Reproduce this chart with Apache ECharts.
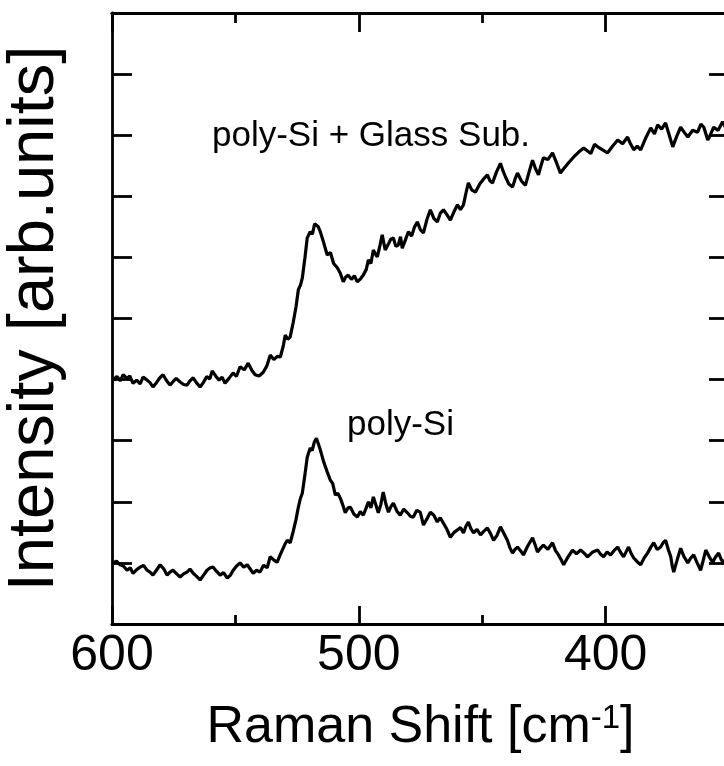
<!DOCTYPE html>
<html>
<head>
<meta charset="utf-8">
<script src="https://cdn.jsdelivr.net/npm/echarts@6/dist/echarts.min.js"></script>
<style>
html,body{margin:0;padding:0;background:#fff;}
#chart{width:724px;height:766px;}
</style>
</head>
<body>
<div id="chart"></div>
<script>
// ---- data ----
const xMajorTicks = [600, 500, 400];
const xMinorTicks = [550, 450, 350];
const xTitle = 'Raman Shift [cm';
const xTitleSup = '-1';
const yTitle = 'Intensity [arb.units]';
const labelGlass = 'poly-Si + Glass Sub.';
const labelPoly = 'poly-Si';

// poly-Si + Glass Sub. (upper trace)
const glassShift = [599.6,598.0,596.6,595.5,594.0,592.8,591.5,590.0,588.6,587.4,586.0,584.6,583.4,582.0,580.6,579.3,578.0,576.5,575.2,574.0,572.4,571.0,569.6,568.4,567.1,565.8,564.3,563.0,561.6,560.4,559.4,558.0,556.6,555.4,554.2,552.6,550.9,549.6,548.1,546.4,544.8,543.3,542.0,540.4,538.7,537.3,535.9,534.4,533.0,531.8,530.6,529.8,528.8,527.8,526.6,525.4,524.5,523.6,522.9,521.8,520.9,519.7,518.8,517.9,517.2,516.4,515.6,514.3,512.8,511.5,510.2,508.7,507.5,506.3,505.3,504.3,503.0,501.8,500.6,499.3,498.2,497.0,496.1,495.1,494.1,493.2,492.5,491.4,490.5,489.3,488.0,487.0,486.0,485.0,484.0,483.1,482.4,481.0,479.9,478.6,477.4,476.3,475.0,473.8,472.4,471.0,469.6,468.2,467.0,465.7,464.3,462.9,461.4,460.0,458.8,457.6,456.6,455.6,454.2,452.7,451.0,449.5,447.9,446.8,445.8,444.2,442.6,441.6,440.6,439.2,437.7,436.7,435.7,434.1,432.5,431.0,429.6,428.4,427.2,426.2,425.2,423.4,421.5,419.9,418.3,417.0,415.0,413.0,411.0,408.9,406.0,404.5,403.2,401.2,399.2,397.2,395.1,393.1,391.1,389.8,388.6,387.2,385.8,383.8,381.7,380.2,378.9,377.3,375.7,374.2,372.8,371.2,369.6,368.2,366.7,364.7,362.7,361.4,360.2,358.6,357.4,356.2,354.4,352.6,351.3,350.0];
const glassIntensity = [3.99,4.05,3.98,4.08,4.02,4.06,3.94,3.99,3.93,4.04,4.00,3.95,3.88,3.95,4.03,4.08,3.99,3.91,3.97,4.02,3.96,3.92,3.91,3.98,4.03,3.95,3.88,3.95,4.05,4.01,4.14,4.06,3.99,4.04,3.94,4.02,4.11,4.05,4.21,4.16,4.27,4.15,4.08,4.06,4.12,4.22,4.40,4.33,4.38,4.37,4.55,4.73,4.66,4.70,4.93,5.20,5.47,5.55,5.66,6.00,6.32,6.42,6.38,6.55,6.58,6.50,6.42,6.25,6.04,6.08,5.90,5.83,5.74,5.60,5.68,5.71,5.64,5.70,5.60,5.65,5.71,5.80,5.96,5.90,6.12,6.05,6.01,6.20,6.37,6.12,6.22,6.30,6.32,6.18,6.20,6.34,6.15,6.30,6.42,6.35,6.50,6.58,6.45,6.40,6.62,6.78,6.64,6.58,6.72,6.78,6.70,6.61,6.75,6.86,6.78,6.86,7.05,7.22,7.10,7.07,7.20,7.28,7.35,7.25,7.22,7.40,7.54,7.42,7.32,7.20,7.15,7.28,7.38,7.25,7.18,7.40,7.59,7.45,7.35,7.50,7.63,7.60,7.71,7.55,7.38,7.45,7.55,7.64,7.72,7.79,7.70,7.85,7.81,7.76,7.71,7.82,7.92,7.86,7.97,7.85,7.76,7.82,7.76,7.95,8.12,8.02,8.17,8.10,8.20,8.00,7.81,7.98,8.13,8.05,7.97,8.08,8.05,8.18,8.13,7.92,8.02,8.13,8.08,8.22,8.12,8.10];

// poly-Si (lower trace)
const polyShift = [599.6,598.2,596.8,595.4,593.9,592.6,591.5,590.0,588.6,587.2,585.8,584.6,583.4,582.0,580.5,579.0,577.7,576.5,575.3,573.8,572.4,571.0,569.6,568.4,567.1,565.7,564.3,562.9,561.5,560.2,559.0,557.6,556.2,554.8,553.3,552.0,550.9,549.5,548.1,546.6,545.2,544.0,542.8,541.4,540.0,538.6,537.1,535.9,534.5,533.1,532.0,531.0,530.0,529.0,527.8,526.6,525.5,524.5,523.7,522.9,521.8,520.9,519.7,518.9,518.0,517.2,516.4,515.6,514.2,512.8,511.6,510.6,509.5,508.5,507.5,506.5,505.5,504.4,503.4,502.0,500.6,499.4,498.2,497.2,496.1,495.1,494.1,493.1,492.1,491.1,490.1,489.0,488.0,487.0,486.0,484.6,483.2,481.8,480.3,479.0,477.9,476.5,475.1,473.8,472.4,471.0,469.6,468.2,467.0,465.7,464.3,462.9,461.4,460.0,458.8,457.6,456.6,455.6,454.6,453.5,452.1,450.7,449.3,447.9,446.6,445.4,444.0,442.6,441.2,439.8,438.8,437.7,436.7,435.7,434.5,433.3,431.5,429.6,428.6,427.6,426.4,425.2,423.4,421.5,420.3,419.1,418.0,417.0,415.2,413.4,411.8,410.1,408.7,407.3,405.2,403.2,402.0,400.8,399.4,398.0,396.6,395.1,393.9,392.7,391.7,390.7,389.6,388.6,387.2,385.8,384.4,383.0,381.8,380.5,379.1,377.7,376.7,375.7,374.6,373.6,373.0,372.4,371.0,369.6,368.2,366.7,365.5,364.3,362.9,361.5,360.4,359.4,358.0,356.6,355.4,354.2,353.2,352.2,351.1,350.0];
const polyIntensity = [1.00,1.03,0.97,0.95,0.88,0.92,0.83,0.89,0.93,0.96,0.88,0.85,0.80,0.88,0.97,0.90,0.80,0.85,0.88,0.82,0.77,0.82,0.85,0.90,0.83,0.78,0.72,0.80,0.88,0.92,0.93,0.86,0.80,0.84,0.75,0.80,0.88,0.95,1.00,0.93,0.97,0.90,0.83,0.88,0.85,0.96,0.92,1.10,1.05,1.01,1.12,1.21,1.30,1.37,1.33,1.51,1.70,1.91,2.05,2.14,2.45,2.73,2.88,2.84,2.98,3.04,2.95,2.85,2.65,2.49,2.36,2.30,2.11,2.14,2.06,1.95,1.82,1.90,1.91,1.80,1.75,1.84,1.78,1.88,2.00,1.90,2.08,1.95,1.82,1.95,2.16,1.96,1.83,1.92,1.98,1.85,1.78,1.88,1.82,1.76,1.75,1.86,1.83,1.62,1.72,1.83,1.78,1.67,1.74,1.65,1.55,1.42,1.50,1.54,1.58,1.49,1.60,1.67,1.56,1.49,1.55,1.46,1.52,1.57,1.48,1.37,1.45,1.59,1.48,1.37,1.25,1.16,1.22,1.26,1.20,1.13,1.28,1.41,1.30,1.18,1.24,1.29,1.22,1.33,1.20,1.13,1.05,0.97,1.10,1.21,1.15,1.21,1.16,1.10,1.18,1.21,1.14,1.10,1.18,1.13,1.20,1.26,1.17,1.10,1.18,1.26,1.15,1.08,1.02,0.97,1.08,1.16,1.25,1.33,1.22,1.26,1.33,1.37,1.22,1.10,0.95,0.85,1.05,1.24,1.10,1.00,1.08,1.13,1.00,0.88,1.05,1.21,1.10,1.01,1.10,1.16,1.06,1.00,1.08,1.05];

// ---- chart ----
const FONT = '"Liberation Sans", Arial, Helvetica, sans-serif';
const zip = (a, b) => a.map((v, i) => [v, b[i]]);
const chart = echarts.init(document.getElementById('chart'), null, {renderer: 'canvas'});

function xAxisDef(pos, ticks, len, withLabel) {
  return {
    type: 'value', position: pos, min: 350, max: 600, inverse: true,
    axisLine: {show: true, onZero: false, lineStyle: {color: '#000', width: 2.8}},
    axisTick: {show: true, inside: true, length: len, customValues: ticks, lineStyle: {color: '#000', width: 2.8}},
    axisLabel: withLabel ? {show: true, customValues: ticks, fontSize: 50, margin: 7, color: '#000', fontFamily: FONT} : {show: false},
    splitLine: {show: false}
  };
}
function yAxisDef(pos) {
  return {
    type: 'value', position: pos, min: 0, max: 10, interval: 1,
    axisLine: {show: true, onZero: false, lineStyle: {color: '#000', width: 2.8}},
    axisTick: {show: true, inside: true, length: 20, lineStyle: {color: '#000', width: 2.8}},
    axisLabel: {show: false},
    splitLine: {show: false}
  };
}

const xMain = xAxisDef('bottom', xMajorTicks, 18, true);
xMain.name = '{a|' + xTitle + '}{s|' + xTitleSup + '}{a|]}';
xMain.nameLocation = 'middle';
xMain.nameGap = 78;
xMain.nameTextStyle = {
  color: '#000', fontFamily: FONT, fontSize: 52,
  rich: {
    a: {fontSize: 52, lineHeight: 52, color: '#000', fontFamily: FONT},
    s: {fontSize: 33, lineHeight: 18, verticalAlign: 'top', color: '#000', fontFamily: FONT}
  }
};
const yMain = yAxisDef('left');
yMain.name = yTitle;
yMain.nameLocation = 'middle';
yMain.nameGap = 44;
yMain.nameTextStyle = {color: '#000', fontFamily: FONT, fontSize: 65};

chart.setOption({
  animation: false,
  backgroundColor: '#fff',
  grid: {left: 112, top: 13, right: -5, bottom: 142, containLabel: false, outerBoundsMode: 'none'},
  xAxis: [
    xMain,
    xAxisDef('bottom', xMinorTicks, 9, false),
    xAxisDef('top', xMajorTicks, 19, false),
    xAxisDef('top', xMinorTicks, 10, false)
  ],
  yAxis: [yMain, yAxisDef('right')],
  graphic: [
    {type: 'text', left: 212, top: 119, style: {text: labelGlass, fontSize: 35, fontFamily: FONT, fill: '#000'}},
    {type: 'text', left: 347, top: 408, style: {text: labelPoly, fontSize: 35, fontFamily: FONT, fill: '#000'}}
  ],
  series: [
    {type: 'line', name: labelGlass, data: zip(glassShift, glassIntensity), xAxisIndex: 0, yAxisIndex: 0,
     showSymbol: false, lineStyle: {color: '#000', width: 3.2}, itemStyle: {color: '#000'}},
    {type: 'line', name: labelPoly, data: zip(polyShift, polyIntensity), xAxisIndex: 0, yAxisIndex: 0,
     showSymbol: false, lineStyle: {color: '#000', width: 3.2}, itemStyle: {color: '#000'}}
  ]
});
</script>
</body>
</html>
